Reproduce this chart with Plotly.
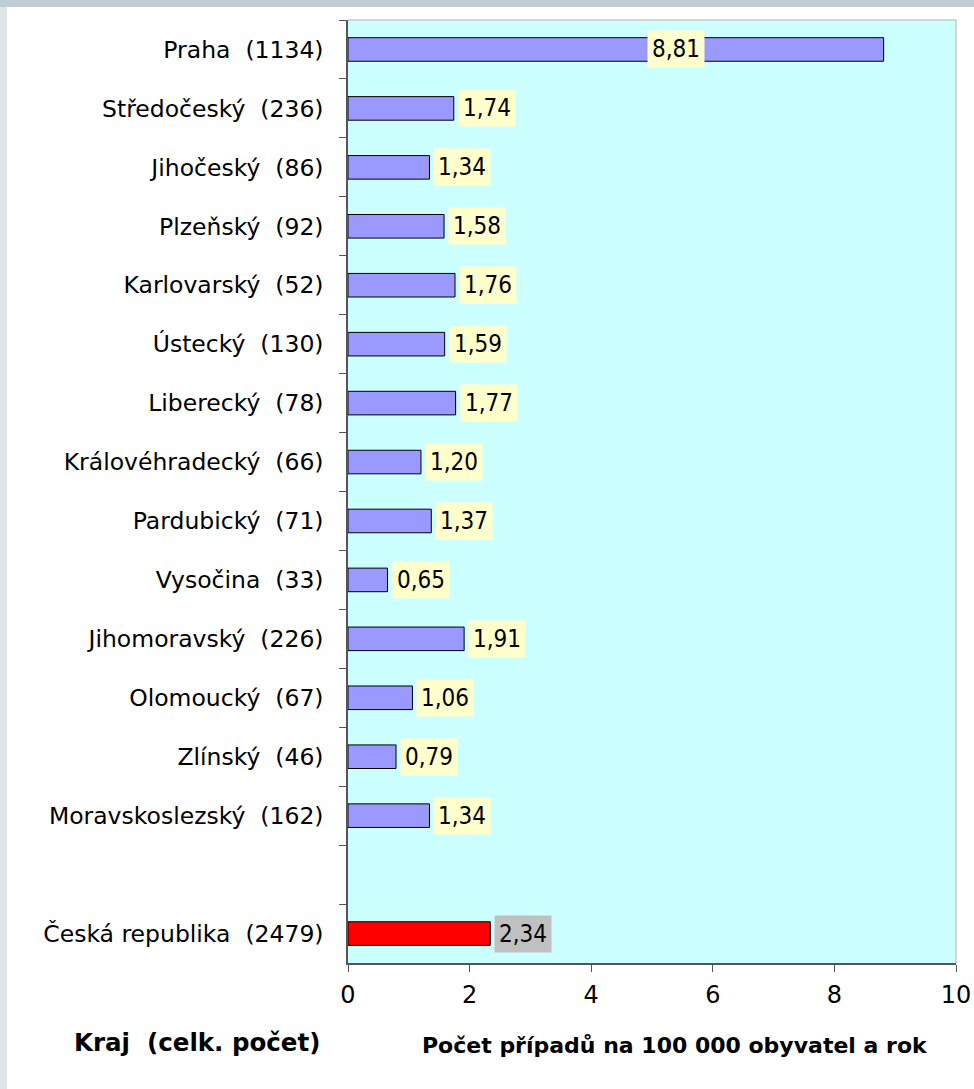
import plotly.graph_objects as go

# data
regions = [
    "Praha", "Středočeský", "Jihočeský", "Plzeňský", "Karlovarský", "Ústecký",
    "Liberecký", "Královéhradecký", "Pardubický", "Vysočina", "Jihomoravský",
    "Olomoucký", "Zlínský", "Moravskoslezský", "", "Česká republika",
]
counts = [1134, 236, 86, 92, 52, 130, 78, 66, 71, 33, 226, 67, 46, 162, None, 2479]
rates = [8.81, 1.74, 1.34, 1.58, 1.76, 1.59, 1.77, 1.20, 1.37, 0.65, 1.91,
         1.06, 0.79, 1.34, None, 2.34]
x_ticks = [0, 2, 4, 6, 8, 10]

NBSP = "\u00a0"
FONT = "DejaVu Sans"
FONT_C = "DejaVu Sans Condensed, DejaVu Sans"

W, H = 974, 1089
L, R, T, B = 348, 18, 20, 126
PW, PH = W - L - R, H - T - B

cats = []
for i, (r, c) in enumerate(zip(regions, counts)):
    if c is None:
        cats.append(NBSP * (i + 1))
    else:
        cats.append(f"{r}{NBSP}{NBSP}({c})")

bar_colors = ["#ff0000" if r == "Česká republika" else "#9999ff" for r in regions]

fig = go.Figure()
fig.add_trace(go.Bar(
    x=rates,
    y=cats,
    orientation="h",
    marker=dict(color=bar_colors, line=dict(color="#000000", width=1)),
    hoverinfo="skip",
))

# value labels with highlighted boxes (Praha's label sits inside its long bar)
for cat, r, v in zip(cats, regions, rates):
    if v is None:
        continue
    inside = v > 6
    fig.add_annotation(
        x=4.92 if inside else v,
        y=cat,
        xref="x", yref="y",
        text=f"{v:.2f}".replace(".", ","),
        showarrow=False,
        xanchor="left",
        xshift=0 if inside else 4,
        font=dict(family=FONT_C, size=24, color="#000000"),
        bgcolor="#c0c0c0" if r == "Česká republika" else "#ffffcc",
        borderpad=4,
    )

# axis titles below the chart
fig.add_annotation(
    x=0, y=-79 / PH, xref="paper", yref="paper", xanchor="right", yanchor="middle",
    text="<b>Kraj  (celk. počet)</b>", xshift=-26,
    showarrow=False, font=dict(family=FONT, size=24.5, color="#000000"),
)
fig.add_annotation(
    x=(675 - L) / PW, y=-82 / PH, xref="paper", yref="paper",
    xanchor="center", yanchor="middle",
    text="<b>Počet případů na 100 000 obyvatel a rok</b>",
    showarrow=False, font=dict(family=FONT, size=22, color="#000000"),
)

fig.update_layout(
    width=W,
    height=H,
    autosize=False,
    margin=dict(l=L, r=R, t=T, b=B, autoexpand=False),
    paper_bgcolor="#ffffff",
    plot_bgcolor="#ccffff",
    showlegend=False,
    bargap=0.6,
    font=dict(family=FONT, size=22, color="#000000"),
)

fig.update_xaxes(
    range=[0, 10],
    tickvals=x_ticks,
    ticks="outside", ticklen=7, tickcolor="#555555",
    showline=True, linecolor="#555555", linewidth=1.5,
    showgrid=False, zeroline=False,
    tickfont=dict(family=FONT, size=24),
    ticklabelstandoff=2,
    automargin=False,
    fixedrange=True,
)
fig.update_yaxes(
    categoryorder="array",
    categoryarray=cats,
    autorange="reversed",
    tickson="boundaries",
    ticks="outside", ticklen=7, tickcolor="#555555",
    showline=True, linecolor="#555555", linewidth=1.5,
    showgrid=False, zeroline=False,
    tickfont=dict(family=FONT, size=23.5),
    ticklabelstandoff=18,
    automargin=False,
    fixedrange=True,
)

# light border on the top and right of the plot area
fig.add_shape(type="line", xref="paper", yref="paper", x0=0, x1=1, y0=1, y1=1,
              line=dict(color="#c8c8c8", width=1.5))
fig.add_shape(type="line", xref="paper", yref="paper", x0=1, x1=1, y0=0, y1=1,
              line=dict(color="#c8c8c8", width=1.5))
# grey page strips along the top and left edge
fig.add_shape(type="rect", xref="paper", yref="paper",
              x0=-L / PW, x1=(W - L) / PW, y0=1 + (T - 7) / PH, y1=1 + T / PH,
              fillcolor="#c0ccd3", line_width=0, layer="below")
fig.add_shape(type="rect", xref="paper", yref="paper",
              x0=-L / PW, x1=-(L - 7) / PW, y0=-B / PH, y1=1 + (T - 7) / PH,
              fillcolor="#dde4e8", line_width=0, layer="below")

fig.write_html(
    "out.html",
    config={"displayModeBar": False, "responsive": False},
    post_script="document.body.style.margin='0';document.body.style.overflow='hidden';",
)
